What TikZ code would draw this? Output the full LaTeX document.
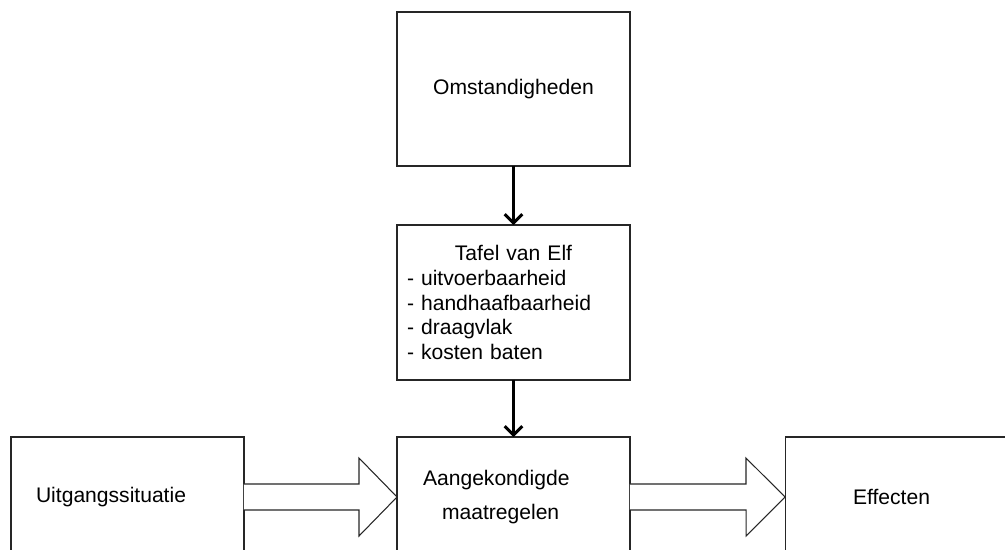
\documentclass[tikz,border=0pt]{standalone}
\usepackage{fontspec}
\setmainfont{Liberation Sans}
\usetikzlibrary{arrows.meta,calc}

\begin{document}
\begin{tikzpicture}[x=0.02cm,y=-0.02cm,
  box/.style={draw=black!85,line width=0.6pt,fill=white,outer sep=0pt,
    minimum width=4.66cm,font=\fontsize{12}{14}\selectfont},
  flow/.style={line width=1.7pt,-{Straight Barb[length=5pt,width=10pt]}},
  blockarrow/.style={draw=black!85,line width=0.6pt,fill=white,line join=miter}]
\clip (0,0) rectangle (1005,550);

% Top of the chain
\node[box,minimum height=3.08cm] (omst) at (513.5,89) {Omstandigheden};
\node[box,minimum height=3.1cm,inner xsep=0.2cm,text width=4.26cm,align=left] (tafel) at (513.5,302.5)
  {\hfill Tafel van Elf\hfill\null\\
   - uitvoerbaarheid\\
   - handhaafbaarheid\\
   - draagvlak\\
   - kosten baten};

% Bottom row
\node[box,minimum height=2.4cm,inner xsep=0.5cm,text width=3.66cm,align=left] (uit) at (127.5,497) {Uitgangssituatie};
\node[box,minimum height=2.4cm,inner xsep=0.52cm,text width=3.62cm,align=left,
  font=\fontsize{12}{19.5}\selectfont] (maat) at (513.5,497)
  {Aangekondigde\\\hspace*{0.38cm}maatregelen};
\node[box,minimum height=2.4cm,inner xsep=1.36cm,text width=1.94cm,align=left] (eff) at (901.5,497) {Effecten};

% Arrows
\draw[flow] (omst.south) -- (tafel.north);
\draw[flow] (tafel.south) -- (maat.north);

\draw[blockarrow] ($(uit.east)+(0,-13)$) -- ++(115,0) -- ++(0,-26) -- (maat.west)
  -- ++(-38,39) -- ++(0,-26) -- ($(uit.east)+(0,13)$);
\draw[blockarrow] ($(maat.east)+(0,-13)$) -- ++(116,0) -- ++(0,-26) -- (eff.west)
  -- ++(-39,39) -- ++(0,-26) -- ($(maat.east)+(0,13)$);

\end{tikzpicture}
\end{document}
